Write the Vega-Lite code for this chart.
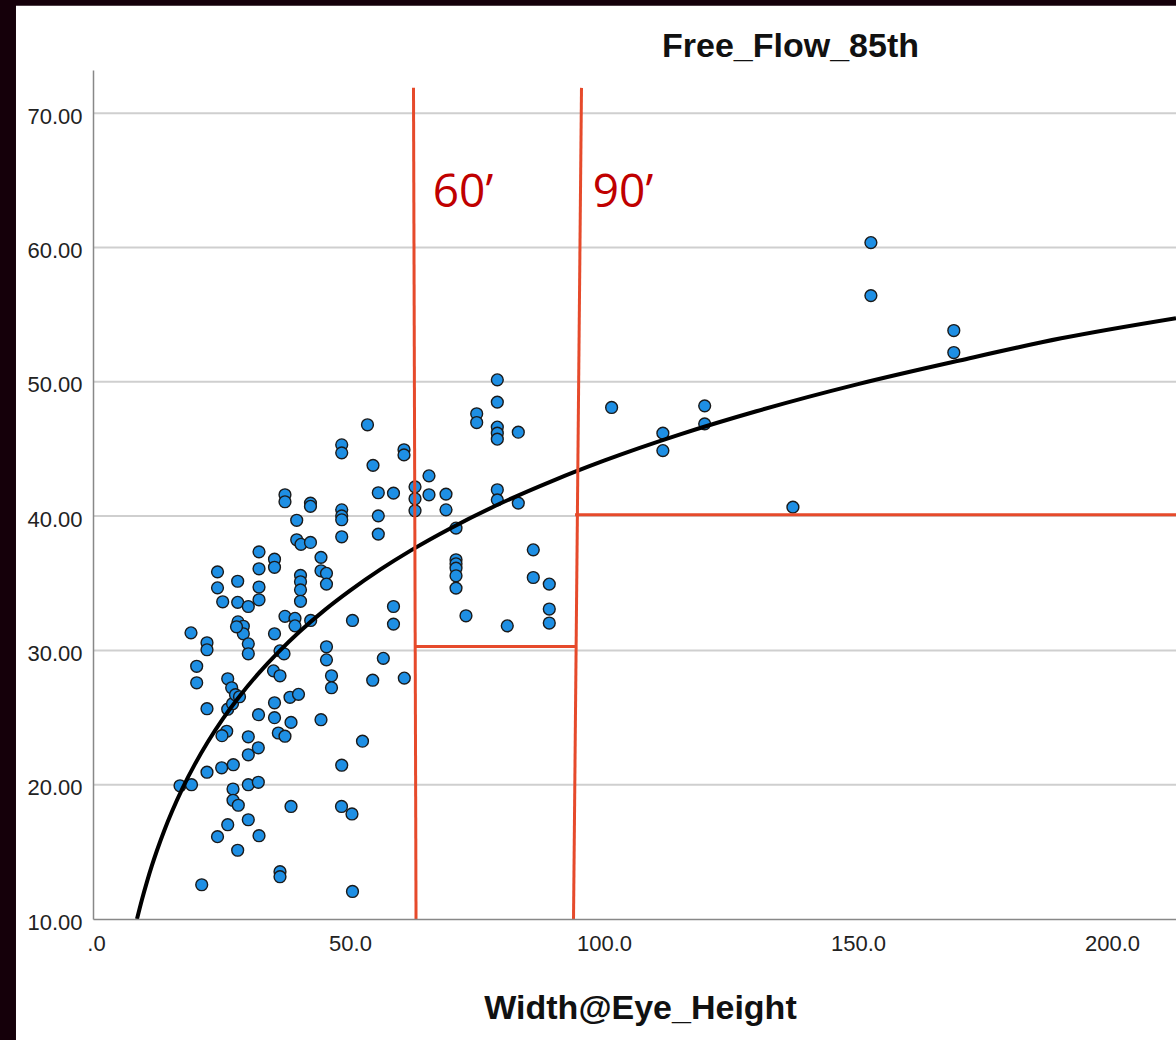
{
  "$schema": "https://vega.github.io/schema/vega-lite/v6.json",
  "width": 1083,
  "height": 849,
  "autosize": {"type": "none"},
  "padding": {"left": 93, "top": 70, "right": 0, "bottom": 121},
  "background": "#15000a",
  "config": {
    "view": {"stroke": null},
    "font": "Liberation Sans"
  },
  "title": {
    "text": "Free_Flow_85th",
    "anchor": "start",
    "frame": "group",
    "dx": 569,
    "dy": 85,
    "offset": 0,
    "baseline": "alphabetic",
    "font": "Liberation Sans",
    "fontSize": 34,
    "fontWeight": "bold",
    "color": "#111111"
  },
  "datasets": {
    "bg": [{"x": -15.75, "x2": 260, "y": 78, "y2": -10}],
    "grid": [{"v": 20}, {"v": 30}, {"v": 40}, {"v": 50}, {"v": 60}, {"v": 70}],
    "points": [
      {"w": 16.54, "s": 19.92}, {"w": 18.80, "s": 20.00}, {"w": 18.70, "s": 31.31}, {"w": 21.85, "s": 30.57},
      {"w": 21.85, "s": 30.05}, {"w": 19.82, "s": 28.82}, {"w": 19.82, "s": 27.59}, {"w": 21.85, "s": 25.66},
      {"w": 21.85, "s": 20.93}, {"w": 20.81, "s": 12.55}, {"w": 23.92, "s": 35.85}, {"w": 23.92, "s": 34.66},
      {"w": 24.94, "s": 33.62}, {"w": 23.92, "s": 16.13}, {"w": 24.74, "s": 21.26}, {"w": 25.93, "s": 17.02},
      {"w": 25.93, "s": 27.89}, {"w": 25.93, "s": 25.62}, {"w": 26.87, "s": 26.03}, {"w": 25.73, "s": 23.98},
      {"w": 24.80, "s": 23.65}, {"w": 27.03, "s": 21.49}, {"w": 26.97, "s": 19.68}, {"w": 26.97, "s": 18.84},
      {"w": 28.01, "s": 18.47}, {"w": 27.89, "s": 15.12}, {"w": 27.89, "s": 35.15}, {"w": 27.89, "s": 33.58},
      {"w": 29.98, "s": 33.27}, {"w": 27.95, "s": 32.13}, {"w": 29.00, "s": 31.80}, {"w": 29.00, "s": 31.24},
      {"w": 27.66, "s": 31.76}, {"w": 29.98, "s": 30.49}, {"w": 29.98, "s": 29.75}, {"w": 29.98, "s": 23.57},
      {"w": 29.98, "s": 22.23}, {"w": 29.98, "s": 20.00}, {"w": 29.98, "s": 17.39}, {"w": 31.95, "s": 20.18},
      {"w": 32.09, "s": 16.20}, {"w": 31.95, "s": 22.75}, {"w": 31.99, "s": 25.21}, {"w": 26.71, "s": 27.22},
      {"w": 27.46, "s": 26.70}, {"w": 28.25, "s": 26.55}, {"w": 32.09, "s": 37.34}, {"w": 32.09, "s": 36.08},
      {"w": 32.09, "s": 34.72}, {"w": 32.09, "s": 33.77}, {"w": 35.14, "s": 36.79}, {"w": 35.14, "s": 36.19},
      {"w": 35.14, "s": 31.24}, {"w": 34.94, "s": 28.48}, {"w": 36.22, "s": 28.11}, {"w": 35.14, "s": 26.10},
      {"w": 35.14, "s": 24.99}, {"w": 35.89, "s": 23.85}, {"w": 37.20, "s": 23.61}, {"w": 36.22, "s": 13.52},
      {"w": 36.22, "s": 13.15}, {"w": 37.20, "s": 41.59}, {"w": 37.20, "s": 41.07}, {"w": 37.20, "s": 32.54},
      {"w": 36.22, "s": 29.97}, {"w": 37.01, "s": 29.75}, {"w": 38.19, "s": 26.51}, {"w": 39.86, "s": 26.73},
      {"w": 38.39, "s": 24.64}, {"w": 38.39, "s": 18.38}, {"w": 39.51, "s": 39.69}, {"w": 39.51, "s": 38.24},
      {"w": 40.35, "s": 37.90}, {"w": 40.26, "s": 35.59}, {"w": 40.26, "s": 35.11}, {"w": 40.26, "s": 34.51},
      {"w": 40.26, "s": 33.66}, {"w": 39.17, "s": 32.39}, {"w": 39.17, "s": 31.83}, {"w": 42.26, "s": 32.23},
      {"w": 42.22, "s": 40.97}, {"w": 42.22, "s": 40.73}, {"w": 42.22, "s": 38.04}, {"w": 44.29, "s": 36.93},
      {"w": 44.29, "s": 35.93}, {"w": 45.37, "s": 35.74}, {"w": 45.37, "s": 34.94}, {"w": 44.29, "s": 24.84},
      {"w": 45.37, "s": 30.27}, {"w": 45.37, "s": 29.30}, {"w": 46.36, "s": 28.11}, {"w": 46.36, "s": 27.22},
      {"w": 48.37, "s": 45.31}, {"w": 48.37, "s": 44.71}, {"w": 48.37, "s": 40.47}, {"w": 48.37, "s": 40.02},
      {"w": 48.37, "s": 39.73}, {"w": 48.37, "s": 38.46}, {"w": 48.37, "s": 21.45}, {"w": 48.33, "s": 18.38},
      {"w": 50.39, "s": 17.82}, {"w": 50.49, "s": 32.23}, {"w": 50.49, "s": 12.05}, {"w": 52.46, "s": 23.24},
      {"w": 53.44, "s": 46.80}, {"w": 54.53, "s": 43.78}, {"w": 54.47, "s": 27.78}, {"w": 55.57, "s": 41.74},
      {"w": 55.57, "s": 40.02}, {"w": 55.57, "s": 38.66}, {"w": 56.56, "s": 29.41}, {"w": 58.56, "s": 41.71},
      {"w": 58.56, "s": 33.27}, {"w": 58.56, "s": 31.96}, {"w": 60.63, "s": 44.94}, {"w": 60.63, "s": 44.56},
      {"w": 60.69, "s": 27.94}, {"w": 62.80, "s": 42.18}, {"w": 62.80, "s": 41.29}, {"w": 62.80, "s": 40.40},
      {"w": 65.55, "s": 43.00}, {"w": 65.55, "s": 41.59}, {"w": 68.90, "s": 41.64}, {"w": 68.90, "s": 40.47},
      {"w": 70.87, "s": 39.11}, {"w": 70.87, "s": 36.75}, {"w": 70.87, "s": 36.45}, {"w": 70.87, "s": 36.13},
      {"w": 70.87, "s": 35.56}, {"w": 70.87, "s": 34.64}, {"w": 72.83, "s": 32.58}, {"w": 74.94, "s": 47.62},
      {"w": 74.94, "s": 46.97}, {"w": 79.00, "s": 50.15}, {"w": 79.00, "s": 48.49}, {"w": 79.00, "s": 46.63},
      {"w": 79.00, "s": 46.18}, {"w": 79.00, "s": 45.73}, {"w": 79.00, "s": 41.96}, {"w": 79.00, "s": 41.21},
      {"w": 80.96, "s": 31.83}, {"w": 83.13, "s": 46.25}, {"w": 83.13, "s": 40.97}, {"w": 86.08, "s": 37.49},
      {"w": 86.08, "s": 35.43}, {"w": 89.23, "s": 34.94}, {"w": 89.23, "s": 33.08}, {"w": 89.23, "s": 32.04},
      {"w": 101.50, "s": 48.09}, {"w": 111.59, "s": 46.18}, {"w": 111.59, "s": 44.88}, {"w": 119.82, "s": 48.21},
      {"w": 119.82, "s": 46.87}, {"w": 137.19, "s": 40.67}, {"w": 152.54, "s": 60.37}, {"w": 152.54, "s": 56.42},
      {"w": 168.86, "s": 53.82}, {"w": 168.86, "s": 52.18}
    ],
    "curve": [
      {"w": 8.07, "s": 10.00}, {"w": 9, "s": 11.38}, {"w": 10, "s": 12.73}, {"w": 11, "s": 13.97},
      {"w": 12, "s": 15.10}, {"w": 13.5, "s": 16.65}, {"w": 15, "s": 18.04}, {"w": 17, "s": 19.71},
      {"w": 19.5, "s": 21.55}, {"w": 22, "s": 23.18}, {"w": 25, "s": 24.92}, {"w": 28, "s": 26.46},
      {"w": 32, "s": 28.29}, {"w": 36, "s": 29.91}, {"w": 40, "s": 31.37}, {"w": 45, "s": 33.00},
      {"w": 50, "s": 34.45}, {"w": 56, "s": 36.03}, {"w": 62, "s": 37.45}, {"w": 70, "s": 39.14},
      {"w": 80, "s": 41.01}, {"w": 90, "s": 42.65}, {"w": 100, "s": 44.13}, {"w": 115, "s": 46.09},
      {"w": 130, "s": 47.81}, {"w": 150, "s": 49.83}, {"w": 170, "s": 51.59}, {"w": 190, "s": 53.24},
      {"w": 212.6, "s": 54.74}
    ],
    "redlines": [
      {"x": 62.5, "y": 71.89, "x2": 63.0, "y2": 10},
      {"x": 95.57, "y": 71.89, "x2": 94.0, "y2": 10},
      {"x": 62.8, "y": 30.29, "x2": 94.3, "y2": 30.29},
      {"x": 94.3, "y": 40.1, "x2": 212.6, "y2": 40.1}
    ],
    "labels": [
      {"label": "60’", "x": 66.3, "y": 63.0},
      {"label": "90’", "x": 97.8, "y": 63.0}
    ]
  },
  "layer": [
    {
      "data": {"name": "bg"},
      "mark": {"type": "rect", "fill": "#ffffff", "clip": false},
      "encoding": {
        "x": {"field": "x", "type": "quantitative", "scale": {"domain": [-0.59, 212.6], "nice": false, "zero": false},
          "axis": {"title": "Width@Eye_Height", "values": [0, 50, 100, 150, 200], "labelExpr": "datum.value == 0 ? '.0' : format(datum.value, '.1f')",
            "grid": false, "ticks": false, "domainColor": "#888888", "domainWidth": 1.5, "labelFont": "Liberation Sans", "labelFontSize": 22,
            "labelColor": "#222222", "labelPadding": 14, "labelFlush": false, "labelOverlap": false, "zindex": 1,
            "titleFont": "Liberation Sans", "titleFontSize": 34, "titleFontWeight": "bold", "titleColor": "#111111",
            "titleX": 547, "titleY": 99, "titleAlign": "center", "titleBaseline": "alphabetic"}},
        "x2": {"field": "x2"},
        "y": {"field": "y", "type": "quantitative", "scale": {"domain": [10, 73.22], "nice": false, "zero": false},
          "axis": {"title": null, "values": [10, 20, 30, 40, 50, 60, 70], "format": ".2f", "grid": false, "ticks": false,
            "domainColor": "#888888", "domainWidth": 1.5, "labelFont": "Liberation Sans", "labelFontSize": 22,
            "labelColor": "#222222", "labelPadding": 11, "labelOffset": 3, "labelFlush": false, "labelOverlap": false, "zindex": 1}},
        "y2": {"field": "y2"}
      }
    },
    {
      "data": {"name": "grid"},
      "mark": {"type": "rule", "color": "#cfcfcf", "strokeWidth": 2},
      "encoding": {"y": {"field": "v", "type": "quantitative"}}
    },
    {
      "data": {"name": "points"},
      "mark": {"type": "point", "filled": true, "fill": "#1e8fe4", "stroke": "#1a1a1a", "strokeWidth": 1.4, "size": 140, "opacity": 1, "fillOpacity": 1, "strokeOpacity": 1},
      "encoding": {
        "x": {"field": "w", "type": "quantitative"},
        "y": {"field": "s", "type": "quantitative"}
      }
    },
    {
      "data": {"name": "curve"},
      "mark": {"type": "line", "color": "#000000", "strokeWidth": 4, "interpolate": "monotone"},
      "encoding": {
        "x": {"field": "w", "type": "quantitative"},
        "y": {"field": "s", "type": "quantitative"}
      }
    },
    {
      "data": {"name": "redlines"},
      "mark": {"type": "rule", "color": "#e64a2b", "strokeWidth": 3},
      "encoding": {
        "x": {"field": "x", "type": "quantitative"},
        "y": {"field": "y", "type": "quantitative"},
        "x2": {"field": "x2"},
        "y2": {"field": "y2"}
      }
    },
    {
      "data": {"name": "labels"},
      "mark": {"type": "text", "color": "#c00000", "font": "Open Sans", "fontSize": 46, "align": "left", "baseline": "alphabetic"},
      "encoding": {
        "x": {"field": "x", "type": "quantitative"},
        "y": {"field": "y", "type": "quantitative"},
        "text": {"field": "label"}
      }
    }
  ]
}
